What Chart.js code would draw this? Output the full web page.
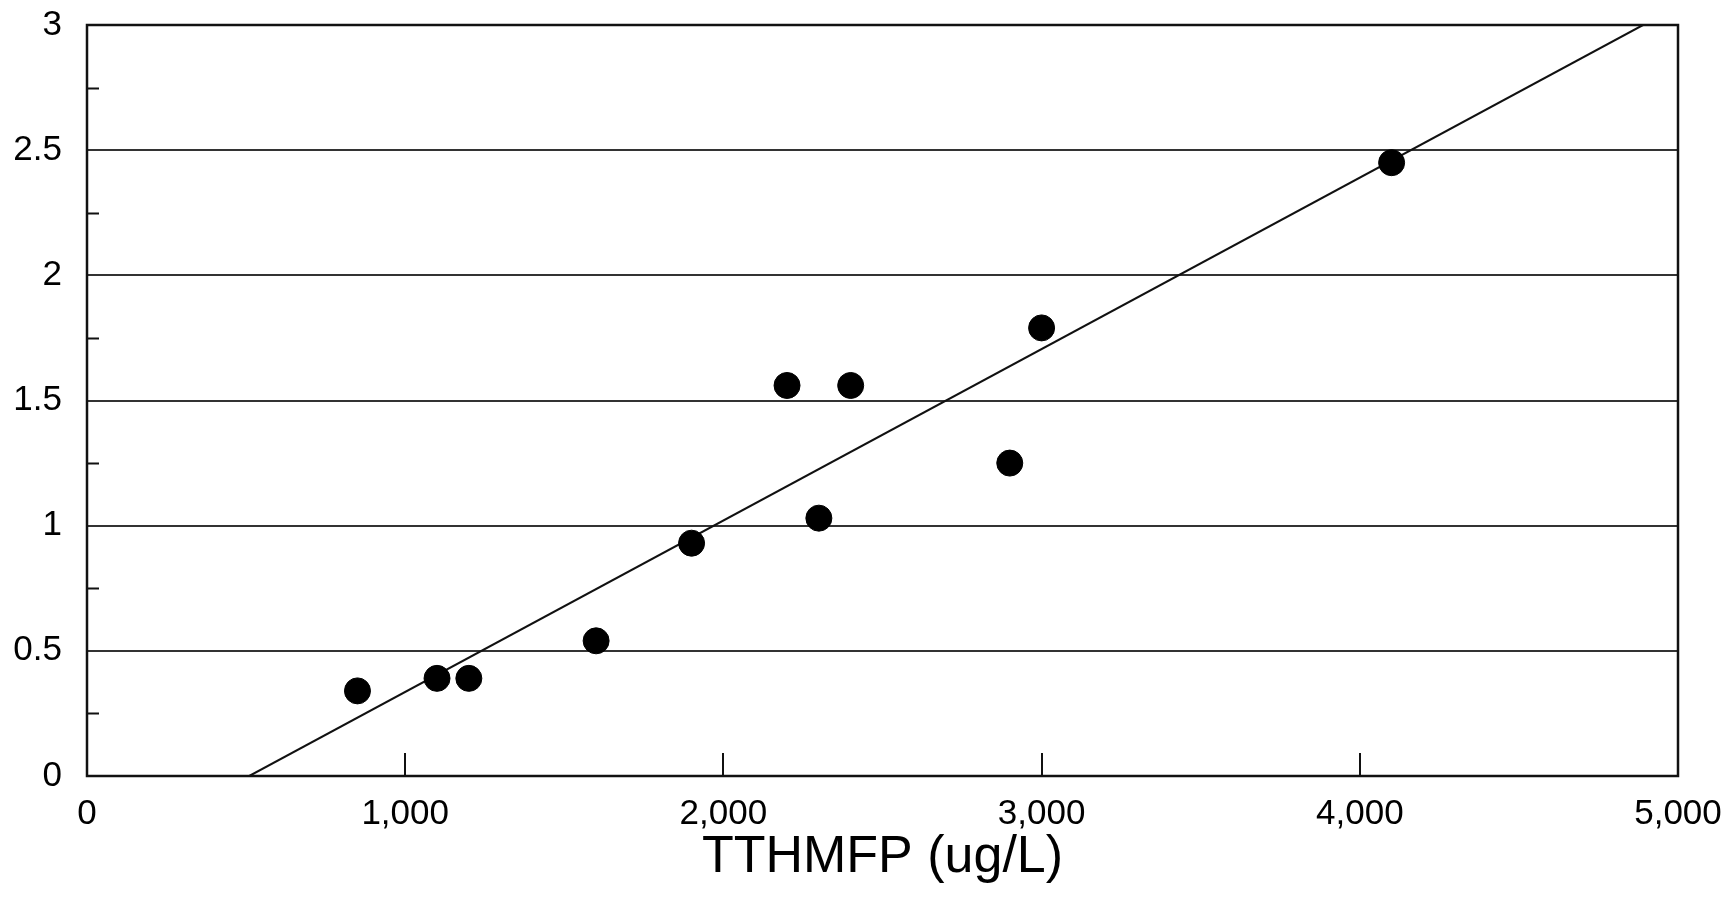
<!DOCTYPE html>
<html>
<head>
<meta charset="utf-8">
<script src="https://cdn.jsdelivr.net/npm/chart.js@4"></script>
<style>
  html, body { margin: 0; padding: 0; background: #fff; }
  #wrap { width: 1727px; height: 901px; }
</style>
</head>
<body>
<div id="wrap"><canvas id="myChart" width="1727" height="901"></canvas></div>
<script>
// samples
const tthmfp = [850, 1100, 1200, 1600, 1900, 2200, 2300, 2400, 2900, 3000, 4100];
const yValues = [0.34, 0.39, 0.39, 0.54, 0.93, 1.56, 1.03, 1.56, 1.25, 1.79, 2.45];
// fitted line end points
const fitX = [510, 4890];
const fitY = [0, 3];
const xTicks = [0, 1000, 2000, 3000, 4000, 5000];
const yTicks = [0, 0.5, 1, 1.5, 2, 2.5, 3];
const xTitle = 'TTHMFP (ug/L)';

const points = tthmfp.map((x, i) => ({ x: x, y: yValues[i] }));
const fitLine = fitX.map((x, i) => ({ x: x, y: fitY[i] }));

// frame + inward ticks
const frame = {
  id: 'frame',
  afterDraw(chart) {
    const c = chart.ctx;
    const a = chart.chartArea;
    const xs = chart.scales.x;
    const ys = chart.scales.y;
    c.save();
    c.strokeStyle = '#111';
    c.lineWidth = 2;
    c.beginPath();
    // minor y ticks
    for (let v = 0.25; v < 3; v += 0.5) {
      const py = Math.round(ys.getPixelForValue(v)) + 0.5;
      c.moveTo(a.left, py);
      c.lineTo(a.left + 12, py);
    }
    // x ticks
    xTicks.slice(1, -1).forEach(v => {
      const px = Math.round(xs.getPixelForValue(v));
      c.moveTo(px, a.bottom);
      c.lineTo(px, a.bottom - 23);
    });
    c.stroke();
    c.lineWidth = 2.5;
    c.strokeRect(a.left, a.top, a.right - a.left, a.bottom - a.top);
    c.restore();
  }
};

function noPad(s) {
  s.paddingTop = 0;
  s.paddingBottom = 0;
  s.paddingLeft = 0;
  s.paddingRight = 0;
}

const ctx = document.getElementById('myChart').getContext('2d');
const myChart = new Chart(ctx, {
  type: 'scatter',
  data: {
    datasets: [{
      label: 'data',
      data: points,
      backgroundColor: '#000',
      borderColor: '#000',
      pointRadius: 13,
      pointHoverRadius: 13,
      order: 1
    }, {
      label: 'fit',
      data: fitLine,
      showLine: true,
      borderColor: '#111',
      borderWidth: 2,
      pointRadius: 0,
      fill: false,
      order: 2
    }]
  },
  options: {
    responsive: false,
    animation: false,
    layout: { padding: { top: 25, right: 49, bottom: 0, left: 0 } },
    plugins: {
      legend: { display: false },
      tooltip: { enabled: false }
    },
    scales: {
      x: {
        type: 'linear',
        min: xTicks[0],
        max: xTicks[xTicks.length - 1],
        afterBuildTicks: s => { s.ticks = xTicks.map(v => ({ value: v })); },
        afterFit: s => { s.height = 125; noPad(s); },
        grid: { display: false, drawTicks: false },
        border: { display: false },
        ticks: {
          color: '#000',
          padding: 17,
          maxRotation: 0,
          autoSkip: false,
          font: { family: 'Liberation Sans', size: 35 },
          callback: v => v.toLocaleString('en-US')
        },
        title: {
          display: true,
          text: xTitle,
          color: '#000',
          padding: { top: 0, bottom: 12 },
          font: { family: 'Liberation Sans', size: 52 }
        }
      },
      y: {
        type: 'linear',
        min: yTicks[0],
        max: yTicks[yTicks.length - 1],
        afterBuildTicks: s => { s.ticks = yTicks.map(v => ({ value: v })); },
        afterFit: s => { s.width = 87; noPad(s); },
        grid: { color: '#333', lineWidth: 2, drawTicks: false },
        border: { display: false },
        ticks: {
          color: '#000',
          padding: 25,
          autoSkip: false,
          font: { family: 'Liberation Sans', size: 35 },
          callback: v => String(v)
        }
      }
    }
  },
  plugins: [frame]
});
</script>
</body>
</html>
